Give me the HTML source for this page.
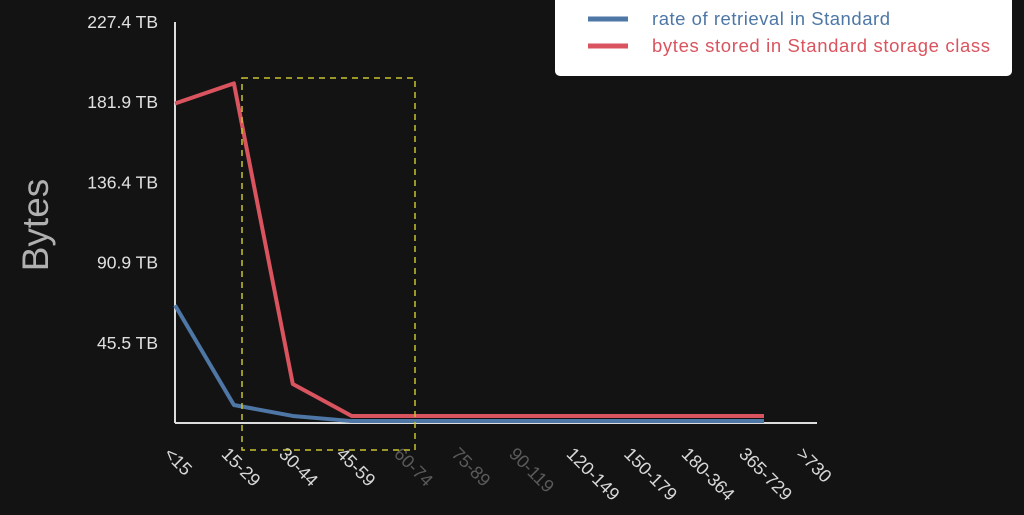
<!DOCTYPE html>
<html><head><meta charset="utf-8"><style>
body{margin:0;background:#131313;width:1024px;height:510px;overflow:hidden;font-family:"Liberation Sans",sans-serif}
</style></head><body>
<svg width="1024" height="510">
<rect width="1024" height="510" fill="#131313"/>
<g id="g"></g>
</svg>
<script>
const categories=["<15","15-29","30-44","45-59","60-74","75-89","90-119","120-149","150-179","180-364","365-729",">730"];
const storedTB=[181.2,192.6,22.1,4.0,4.0,4.0,4.0,4.0,4.0,4.0,4.0];
const retrievalTB=[66.8,10.2,4.0,1.1,1.1,1.1,1.1,1.1,1.1,1.1,1.1];
const yTicks=[45.5,90.9,136.4,181.9,227.4];
const dimLabels=["60-74","75-89","90-119"];
const NS="http://www.w3.org/2000/svg",g=document.getElementById('g');
const X0=175,Y0=423,ymaxPx=22,yMax=227.4,step=58.9;
const x=i=>X0+i*step, y=v=>Y0-(v/yMax)*(Y0-ymaxPx);
function mk(t,a,txt){const e=document.createElementNS(NS,t);for(const k in a)e.setAttribute(k,a[k]);if(txt!==undefined)e.textContent=txt;g.appendChild(e);return e;}
let e;
e=mk('line',{x1:X0,y1:22,x2:X0,y2:Y0,stroke:'#ddd','stroke-width':2});


e=mk('line',{x1:X0,y1:Y0,x2:817,y2:Y0,stroke:'#ddd','stroke-width':2});


yTicks.forEach(v=>{
 e=mk('text',{x:158,y:y(v)+6,'text-anchor':'end','font-size':17.5,fill:'#e0e0e0'},v+' TB');
 
 
});
e=mk('text',{x:0,y:0,'font-size':37,fill:'#b0b0b0','text-anchor':'middle',transform:'translate(48,225) rotate(-90)'},'Bytes');


categories.forEach((c,i)=>{
 const lx=X0+i*57.5-12, ly=455;
 e=mk('text',{x:lx,y:ly,'font-size':18,fill:dimLabels.includes(c)?'#5a5a5a':'#d8d8d8',transform:`rotate(45 ${lx} ${ly})`,'text-anchor':'start'},c);
 
 
});
function line(vals,col,name){
 e=mk('polyline',{points:vals.map((v,i)=>x(i)+','+y(v)).join(' '),fill:'none',stroke:col,'stroke-width':4,'stroke-linejoin':'round'});
 
 
}
line(storedTB,'#d9545e','stored-line');
line(retrievalTB,'#4e77a6','retrieval-line');
e=mk('rect',{x:242,y:78,width:173,height:372,fill:'none',stroke:'#c8c230','stroke-width':1.5,'stroke-dasharray':'6,5'});


e=mk('rect',{x:555,y:-6,width:457,height:82,rx:5,fill:'#fff'});


[['rate of retrieval in Standard','#4e77a6',19],['bytes stored in Standard storage class','#d9545e',46]].forEach(([t,c,yy])=>{
 e=mk('line',{x1:588,y1:yy,x2:628,y2:yy,stroke:c,'stroke-width':5});
 
 
 e=mk('text',{x:652,y:yy+6,'font-size':18.5,fill:c,textLength:t.length>30?338:238},t);
 
 
});
</script>
</body></html>
